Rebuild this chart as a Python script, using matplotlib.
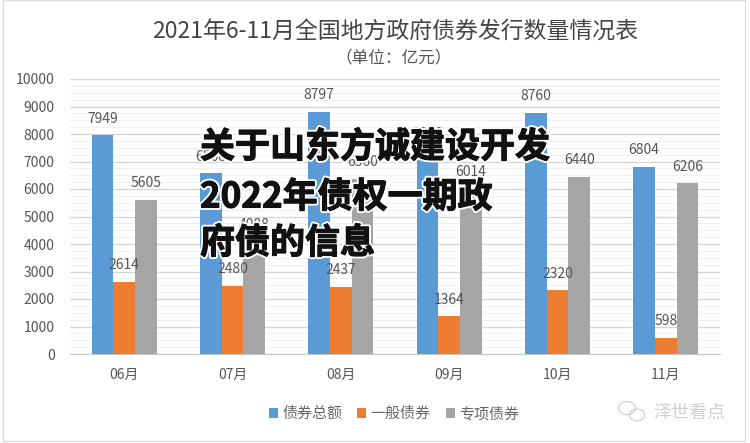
import matplotlib.pyplot as plt
import matplotlib.patheffects as pe
from matplotlib.patches import Rectangle, Ellipse
import numpy as np

plt.rcParams['font.family'] = ['Noto Sans CJK SC', 'DejaVu Sans']

# --- Data ---
months = ['06月', '07月', '08月', '09月', '10月', '11月']
total_bonds = [7949, 6568, 8797, 7378, 8760, 6804]
general_bonds = [2614, 2480, 2437, 1364, 2320, 598]
special_bonds = [5605, 4088, 6360, 6014, 6440, 6206]
series_names = ['债券总额', '一般债券', '专项债券']
colors = ['#5b9bd5', '#ed7d31', '#a5a5a5']
yticks = list(range(0, 10001, 1000))

W, H = 750, 443
fig = plt.figure(figsize=(W / 100, H / 100), dpi=100)
ax = fig.add_axes([70 / W, 1 - 354 / H, 650 / W, 275 / H])

x = np.arange(len(months))
bar_w = 0.2
for i, vals in enumerate([total_bonds, general_bonds, special_bonds]):
    pos = x + (i - 1) * bar_w
    ax.bar(pos, vals, bar_w, color=colors[i], zorder=3, label=series_names[i])
    for px, v in zip(pos, vals):
        ax.annotate(str(v), (px, v), xytext=(0, 12), textcoords='offset points',
                    ha='center', va='center', fontsize=10, color='#555555', zorder=4)

ax.set_xlim(-0.5, 5.5)
ax.set_ylim(0, 10000)
ax.set_yticks(yticks)
ax.set_yticks(np.arange(0, 10001, 250), minor=True)
ax.set_xticks(x)
ax.set_xticklabels(months)
ax.tick_params(axis='both', which='both', length=0, labelsize=10, labelcolor='#555555')
ax.tick_params(axis='x', pad=10)
ax.tick_params(axis='y', pad=11)
ax.grid(axis='y', which='major', color='#d4d4d4', lw=0.9, zorder=0)
ax.grid(axis='y', which='minor', color='#f0f0f0', lw=0.7, zorder=0)
for s in ['top', 'right', 'left']:
    ax.spines[s].set_visible(False)
ax.spines['bottom'].set_color('#c8c8c8')

# outer frame of the pasted picture
fig.add_artist(Rectangle((3 / W, 1 - 441 / H), 742 / W, 441 / H, fill=False,
                         ec='#dddddd', lw=1, transform=fig.transFigure))

fig.text(395 / W, 1 - 32 / H, '2021年6-11月全国地方政府债券发行数量情况表',
         ha='center', va='center', fontsize=16.5, color='#444444')
fig.text(394 / W, 1 - 58 / H, '（单位：亿元）', ha='center', va='center',
         fontsize=12, color='#555555')

ax.legend(loc='center', bbox_to_anchor=(394 / W, 1 - 414 / H),
          bbox_transform=fig.transFigure, ncol=3, frameon=False, fontsize=10.8,
          labelcolor='#666666', handlelength=0.6, handleheight=0.6,
          handletextpad=0.3, columnspacing=1.0)

# watermark
fig.text(689 / W, 1 - 413 / H, '泽世看点', ha='center', va='center',
         fontsize=13, color='#cfcfcf')
for cx, cy, ew, eh in [(627, 408, 17, 13), (637, 415, 15, 12)]:
    fig.add_artist(Ellipse((cx / W, 1 - cy / H), ew / W, eh / H, fill=False,
                           ec='#cfcfcf', lw=0.9, transform=fig.transFigure))

# overlay headline
headline = ['关于山东方诚建设开发', '2022年债权一期政', '府债的信息']
for line, py in zip(headline, [147, 197, 243]):
    fig.text(200 / W, 1 - py / H, line, ha='left', va='center', fontsize=25.2,
             fontweight='bold', color='#111111', zorder=10,
             path_effects=[pe.withStroke(linewidth=3.5, foreground='white'),
                           pe.withStroke(linewidth=0.8, foreground='#111111')])

fig.savefig('out.png', dpi=100)
